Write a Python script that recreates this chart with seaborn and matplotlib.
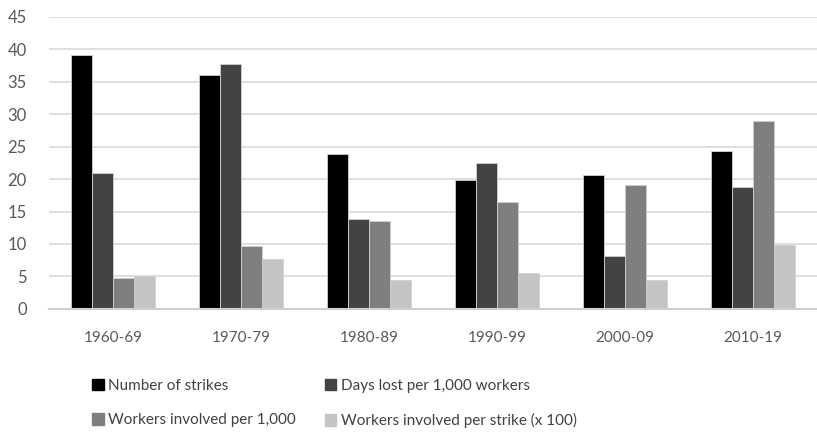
import numpy as np
import pandas as pd
import matplotlib.pyplot as plt
import seaborn as sns

sns.set_style("white")
plt.rcParams['font.family'] = ['Lato', 'DejaVu Sans']

decades = ['1960-69', '1970-79', '1980-89', '1990-99', '2000-09', '2010-19']
series = ['Number of strikes', 'Days lost per 1,000 workers',
          'Workers involved per 1,000', 'Workers involved per strike (x 100)']
strikes = [39.1, 36.0, 23.8, 19.8, 20.6, 24.3]
days_lost = [21.0, 37.7, 13.8, 22.5, 8.2, 18.7]
workers_per_1000 = [4.8, 9.7, 13.6, 16.5, 19.1, 29.0]
workers_per_strike = [5.0, 7.7, 4.4, 5.5, 4.4, 9.8]
colors = ['#000000', '#434343', '#7f7f7f', '#c4c4c4']

# long format for seaborn
rows = []
for name, vals in zip(series, [strikes, days_lost, workers_per_1000, workers_per_strike]):
    for d, v in zip(decades, vals):
        rows.append({'decade': d, 'series': name, 'value': v})
df = pd.DataFrame(rows)

fig = plt.figure(figsize=(8.17, 4.37), dpi=100)
ax = fig.add_axes([0.06, 0.293, 0.94, 0.669])

sns.barplot(data=df, x='decade', y='value', hue='series', palette=colors,
            width=0.65, ax=ax, edgecolor='#d0d0d0', linewidth=0.6, legend=False)

ax.set_ylim(0, 45)
ax.set_yticks(range(0, 46, 5))
ax.set_xlim(-0.5, 5.5)
ax.yaxis.grid(True, color='#d9d9d9', linewidth=1.2)
ax.set_axisbelow(True)
for s in ['top', 'right', 'left']:
    ax.spines[s].set_visible(False)
ax.spines['bottom'].set_color('#d0d0d0')
ax.spines['bottom'].set_linewidth(1.5)
ax.set_xlabel('')
ax.set_ylabel('')
ax.tick_params(axis='y', length=0, labelsize=12, labelcolor='#595959', pad=16)
ax.tick_params(axis='x', length=0, labelsize=11, labelcolor='#595959', pad=16)

# matplotlib fills legend columns first, reorder so it reads row by row
handles = [plt.Rectangle((0, 0), 1, 1, color=c) for c in colors]
order = [0, 2, 1, 3]
fig.legend([handles[i] for i in order], [series[i] for i in order], ncol=2,
           loc='upper left', bbox_to_anchor=(0.096, 0.165),
           frameon=False, fontsize=11, handlelength=0.75, handleheight=0.75,
           handletextpad=0.3, columnspacing=1.9, labelspacing=1.35,
           labelcolor='#404040')

fig.savefig('out.png', dpi=100)
